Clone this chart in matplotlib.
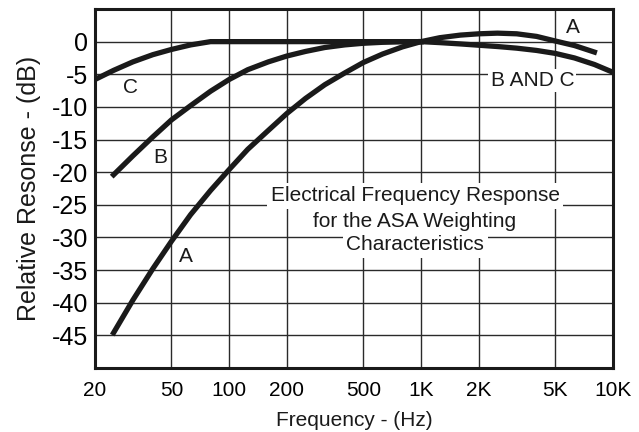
import matplotlib
matplotlib.use("Agg")
import matplotlib.pyplot as plt
from matplotlib.ticker import FixedLocator, NullLocator

plt.rcParams['font.family'] = ['Liberation Sans', 'DejaVu Sans']

# Curve A
freq_a = [25, 31.5, 40, 50, 63, 80, 100, 125, 160, 200, 250, 315, 400, 500,
          630, 800, 1000, 1250, 1600, 2000, 2500, 3150, 4000, 5000, 6300, 8000]
db_a = [-44.6, -39.6, -34.8, -30.6, -26.5, -22.8, -19.6, -16.5, -13.6, -11.0,
        -8.7, -6.6, -4.8, -3.2, -1.9, -0.8, 0.0, 0.6, 1.0, 1.2, 1.3, 1.2,
        0.8, 0.1, -0.6, -1.6]

# Curve B (below 1K)
freq_b = [25, 31.5, 40, 50, 63, 80, 100, 125, 160, 200, 250, 315, 400, 500,
          630, 800, 1000]
db_b = [-20.4, -17.5, -14.6, -12.0, -9.8, -7.6, -5.8, -4.3, -3.1, -2.2,
        -1.5, -0.9, -0.5, -0.25, -0.1, 0.0, 0.0]

# Curve C (below 1K)
freq_c = [20, 25, 31.5, 40, 50, 63, 80, 100, 200, 500, 1000]
db_c = [-5.8, -4.4, -3.1, -2.0, -1.2, -0.5, 0.0, 0.0, 0.0, 0.0, 0.0]

# Curve B and C (above 1K)
freq_bc = [1000, 1250, 1600, 2000, 2500, 3150, 4000, 5000, 6300, 8000, 10000]
db_bc = [0.0, -0.15, -0.35, -0.55, -0.75, -1.0, -1.35, -1.8, -2.5, -3.5, -4.7]

x_ticks = [20, 50, 100, 200, 500, 1000, 2000, 5000, 10000]
x_labels = ['20', '50', '100', '200', '500', '1K', '2K', '5K', '10K']
y_ticks = [0, -5, -10, -15, -20, -25, -30, -35, -40, -45]

fig = plt.figure(figsize=(6.39, 4.32), dpi=100)
ax = fig.add_axes([95/639, 1-368/432, (613-95)/639, (368-9)/432])

ax.set_xscale('log')
ax.set_xlim(20, 10000)
ax.set_ylim(-50, 5)

ax.xaxis.set_major_locator(FixedLocator(x_ticks))
ax.xaxis.set_minor_locator(NullLocator())
ax.set_xticklabels(x_labels)
ax.set_yticks(y_ticks)
ax.set_yticklabels([str(v) for v in y_ticks])

ax.grid(True, color='#2a2a2a', linewidth=1.0, zorder=1)
ax.tick_params(axis='both', length=0)
ax.tick_params(axis='x', labelsize=15, pad=9)
ax.tick_params(axis='y', labelsize=18, pad=5)
for s in ax.spines.values():
    s.set_linewidth(2.2)
    s.set_color('#1a1a1a')
    s.set_zorder(5)

lw = 3.8
col = '#1a1a1a'
ax.plot(freq_a, db_a, color=col, lw=lw, zorder=3)
ax.plot(freq_b, db_b, color=col, lw=lw, zorder=3)
ax.plot(freq_c, db_c, color=col, lw=lw, zorder=3)
ax.plot(freq_bc, db_bc, color=col, lw=lw, zorder=3)

fs = 15
ax.text(30.5, -7.0, 'C', fontsize=fs, ha='center', va='center', color=col, zorder=4)
ax.text(43.7, -17.7, 'B', fontsize=fs, ha='center', va='center', color=col, zorder=4)
ax.text(59.7, -32.9, 'A', fontsize=fs, ha='center', va='center', color=col, zorder=4)
ax.text(6200, 2.2, 'A', fontsize=fs, ha='center', va='center', color=col, zorder=4)
ax.text(3800, -5.9, 'B AND C', fontsize=fs, ha='center', va='center', color=col,
        zorder=4, bbox=dict(facecolor='white', edgecolor='none', pad=1.5))

box_lines = ['Electrical Frequency Response', 'for the ASA Weighting', 'Characteristics']
box_y = [-23.6, -27.6, -31.1]
for t, yv in zip(box_lines, box_y):
    ax.text(930, yv, t, fontsize=fs, ha='center', va='center', color=col, zorder=4,
            bbox=dict(facecolor='white', edgecolor='none', pad=2.5))

ax.set_xlabel('Frequency - (Hz)', fontsize=15, color=col, labelpad=8)
ax.set_ylabel('Relative Resonse - (dB)', fontsize=18, color=col, labelpad=8)

fig.savefig('out.png', dpi=100)
